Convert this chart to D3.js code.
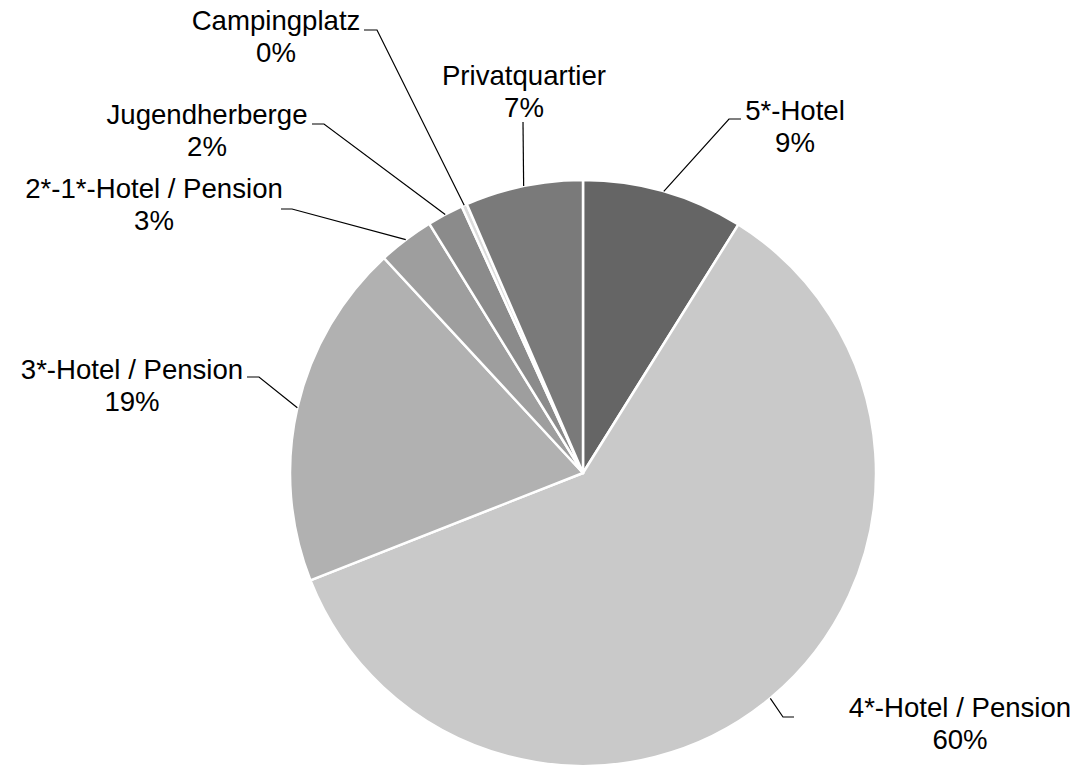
<!DOCTYPE html>
<html>
<head>
<meta charset="utf-8">
<script src="https://cdn.jsdelivr.net/npm/d3@7"></script>
<style>
  html, body { margin: 0; padding: 0; background: #fff; }
  svg { display: block; }
  .slice-label { font-family: "Liberation Sans", Arial, sans-serif; font-size: 27.6px; fill: #000; }
  .leader { fill: none; stroke: #000; stroke-width: 1.2; }
</style>
</head>
<body>
<div id="chart"></div>
<script>
// Accommodation share pie, clockwise from 12 o'clock.
const categories = ['5*-Hotel', '4*-Hotel / Pension', '3*-Hotel / Pension', '2*-1*-Hotel / Pension',
  'Jugendherberge', 'Campingplatz', 'Privatquartier'];
const shares = [8.9, 60.2, 19.1, 3.1, 2.0, 0.3, 6.5];
const shareLabels = ['9%', '60%', '19%', '3%', '2%', '0%', '7%'];
const sliceColors = ['#656565', '#c9c9c9', '#b1b1b1', '#9e9e9e', '#8b8b8b', '#dcdcdc', '#7a7a7a'];

const width = 1087;
const height = 766;
const cx = 583;
const cy = 473;
const radius = 293;

// Hand-placed label boxes (text centre / first baseline) and leader elbows,
// in page pixels, same order as categories.
const labelLayout = [
  { tx: 795, ty: 120, elbow: [729, 119], stub: [741, 119] },
  { tx: 960, ty: 717, elbow: [783, 717], stub: [794, 717] },
  { tx: 132, ty: 379, elbow: [259, 377], stub: [247, 377] },
  { tx: 154, ty: 198, elbow: [292, 209], stub: [281, 209] },
  { tx: 207, ty: 124, elbow: [324, 124], stub: [312, 124] },
  { tx: 276, ty: 30, elbow: [377, 30], stub: [364, 30] },
  { tx: 524, ty: 85, elbow: [523, 122], stub: [523, 122] },
];

const svg = d3.select('#chart').append('svg').attr('width', width).attr('height', height);
const g = svg.append('g').attr('transform', `translate(${cx},${cy})`);

const data = categories.map((c, i) => ({ name: c, value: shares[i], label: shareLabels[i], i }));
const pie = d3.pie().sort(null).value((d) => d.value);
const arcs = pie(data);
const arc = d3.arc().innerRadius(0).outerRadius(radius);

g.selectAll('path.slice')
  .data(arcs)
  .join('path')
  .attr('class', 'slice')
  .attr('d', arc)
  .attr('fill', (d) => sliceColors[d.data.i])
  .attr('stroke', '#fff')
  .attr('stroke-width', 2.5)
  .attr('stroke-linejoin', 'round');

// leader lines: from the arc at the slice's mid-angle to the elbow, then a short stub
const labels = svg.append('g');
arcs.forEach((d) => {
  const lay = labelLayout[d.data.i];
  const mid = (d.startAngle + d.endAngle) / 2;
  const px = cx + radius * Math.sin(mid);
  const py = cy - radius * Math.cos(mid);
  labels.append('path')
    .attr('class', 'leader')
    .attr('d', d3.line()([[px, py], lay.elbow, lay.stub]));

  const t = labels.append('text')
    .attr('class', 'slice-label')
    .attr('text-anchor', 'middle')
    .attr('x', lay.tx)
    .attr('y', lay.ty);
  t.append('tspan').attr('x', lay.tx).text(d.data.name);
  t.append('tspan').attr('x', lay.tx).attr('dy', 32).text(d.data.label);
});
</script>
</body>
</html>
